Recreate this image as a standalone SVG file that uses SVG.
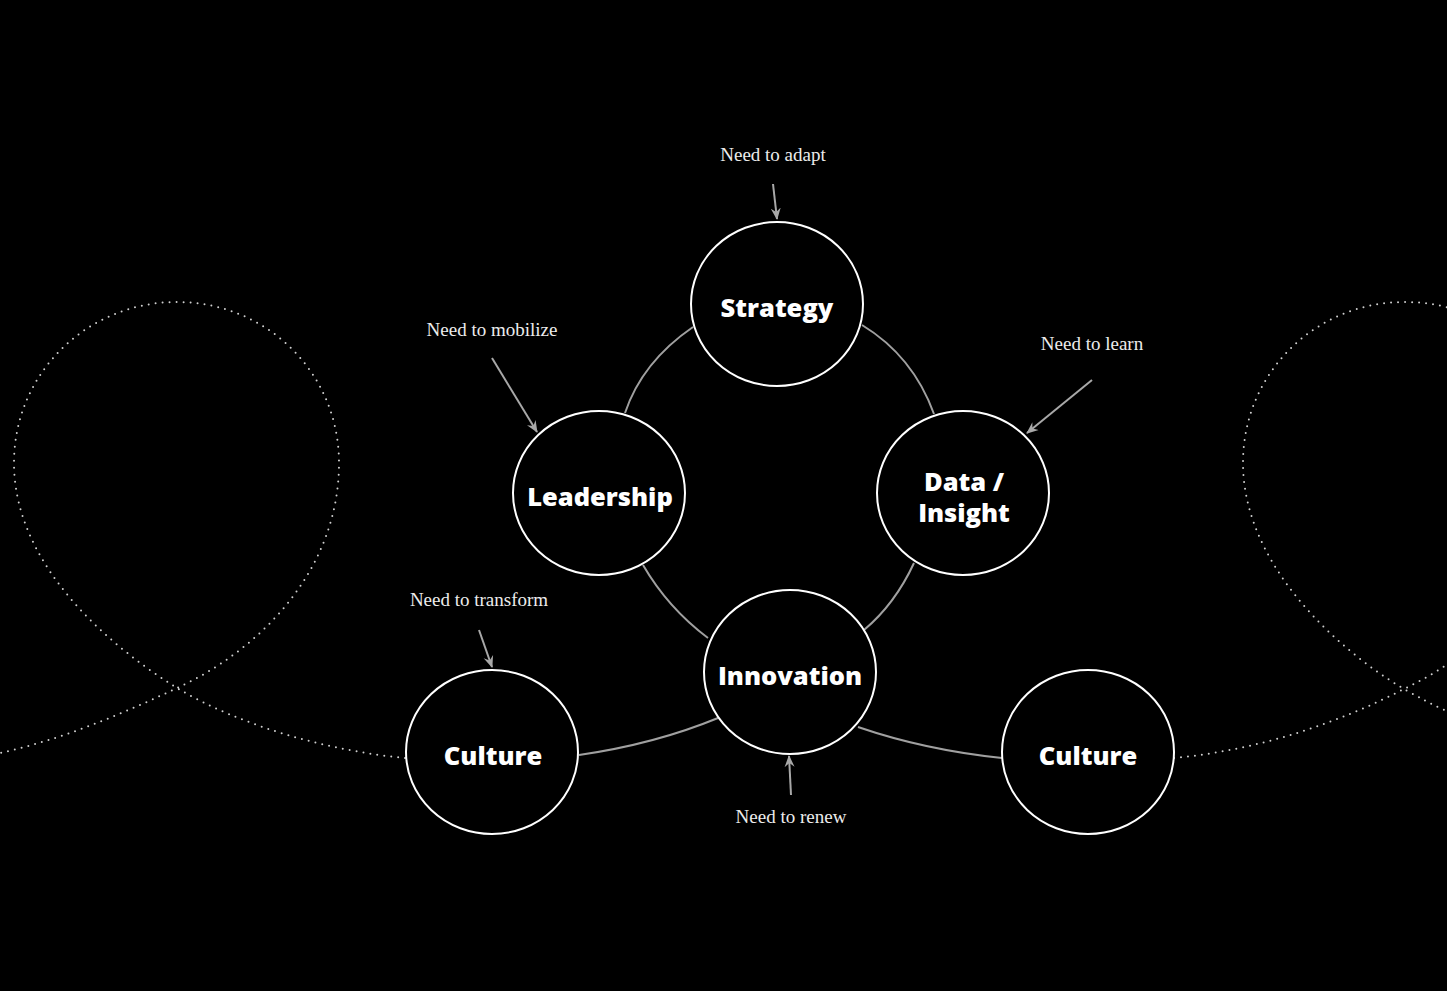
<svg xmlns="http://www.w3.org/2000/svg" width="1447" height="991" viewBox="0 0 1447 991">
<style>
.bg{fill:#000}
.node{fill:#000;stroke:#fff;stroke-width:2}
.lbl{font-family:"Open Sans","DejaVu Sans",sans-serif;font-weight:800;font-size:25.5px;fill:#fff;text-anchor:middle}
.note{font-family:"Liberation Serif","DejaVu Serif",serif;font-size:19px;fill:#ececec;text-anchor:middle}
.conn{fill:none;stroke:#a0a0a0;stroke-width:2}
.arrow{fill:none;stroke:#a8a8a8;stroke-width:2;marker-end:url(#ah)}
.dots{fill:none;stroke:#cfcfcf;stroke-width:2;stroke-linecap:round;stroke-dasharray:0 7}
</style>
<defs>
<marker id="ah" viewBox="0 0 12 12" refX="11" refY="6" markerWidth="12" markerHeight="12" markerUnits="userSpaceOnUse" orient="auto">
<path d="M0,1 L12,6 L0,11 L4,6 Z" fill="#a8a8a8"/>
</marker>
</defs>
<rect class="bg" x="0" y="0" width="1447" height="991"/>
<g id="loops">
<path class="dots" d="M405,758 C330,751 240,726 177,688 C100,640 14,560 14,463 C14,373 87,302 177,302 C267,302 339,373 339,463 C339,570 260,650 177,688 C120,715 60,740 0,753"/>
<path class="dots" d="M1174,758 C1260,750 1340,722 1404,689 C1489,648 1568,570 1568,463 C1568,373 1496,302 1405,302 C1315,302 1243,373 1243,463 C1243,560 1330,645 1404,689 C1420,698 1435,706 1447,711"/>
</g>
<g id="connectors">
<path class="conn" d="M625,413 Q642,362 693,327"/>
<path class="conn" d="M862,325 Q913,356 934,414"/>
<path class="conn" d="M643,565 Q668,608 708,638"/>
<path class="conn" d="M914,563 Q895,604 864,630"/>
<path class="conn" d="M579,755 Q655,744 718,718"/>
<path class="conn" d="M858,727 Q925,750 1002,758"/>
<path class="arrow" d="M773,184 L777,219"/>
<path class="arrow" d="M492,358 L537,432"/>
<path class="arrow" d="M1092,380 L1027,433"/>
<path class="arrow" d="M479,630 L492,667"/>
<path class="arrow" d="M791,795 L789,756"/>
</g>
<g id="strategy"><ellipse class="node" cx="777" cy="304" rx="86" ry="82"/><text class="lbl" x="777" y="317">Strategy</text></g>
<g id="leadership"><ellipse class="node" cx="599" cy="493" rx="86" ry="82"/><text class="lbl" x="600" y="506">Leadership</text></g>
<g id="data"><ellipse class="node" cx="963" cy="493" rx="86" ry="82"/><text class="lbl" x="964" y="491">Data /</text><text class="lbl" x="964" y="522">Insight</text></g>
<g id="innovation"><ellipse class="node" cx="790" cy="672" rx="86" ry="82"/><text class="lbl" x="790" y="685">Innovation</text></g>
<g id="culture-left"><ellipse class="node" cx="492" cy="752" rx="86" ry="82"/><text class="lbl" x="493" y="765">Culture</text></g>
<g id="culture-right"><ellipse class="node" cx="1088" cy="752" rx="86" ry="82"/><text class="lbl" x="1088" y="765">Culture</text></g>
<g id="notes">
<text class="note" x="773" y="161">Need to adapt</text>
<text class="note" x="492" y="336">Need to mobilize</text>
<text class="note" x="1092" y="350">Need to learn</text>
<text class="note" x="479" y="606">Need to transform</text>
<text class="note" x="791" y="823">Need to renew</text>
</g>
</svg>
